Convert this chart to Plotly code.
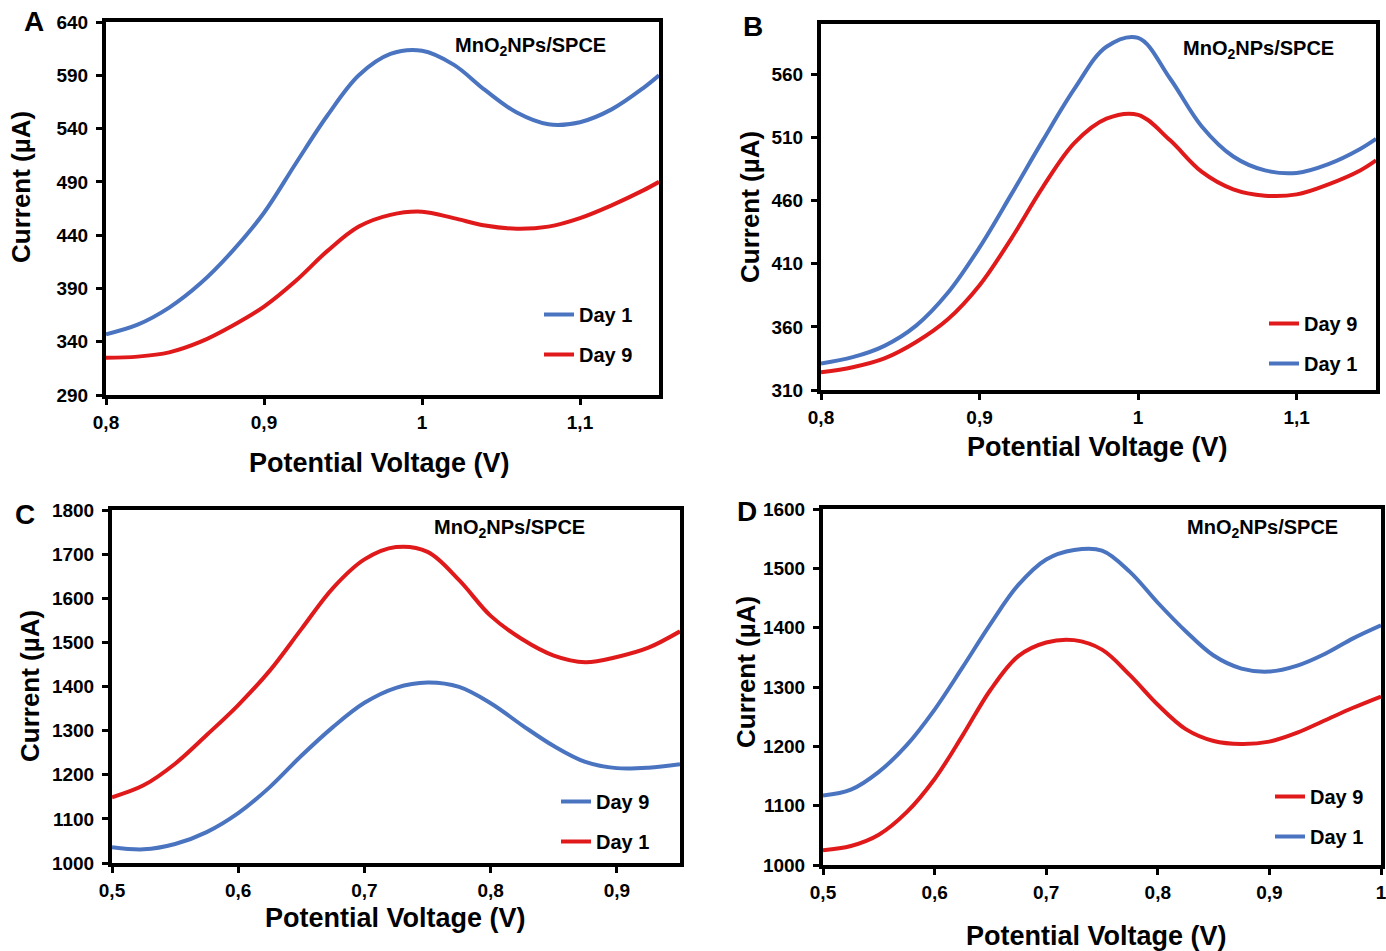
import plotly.graph_objects as go

W, H = 1386, 951

# ---------------- data: potential (V) and current (uA) ----------------
# Panel A
a_v = [0.80, 0.82, 0.84, 0.86, 0.88, 0.90, 0.92, 0.94, 0.96, 0.98, 1.00,
       1.02, 1.04, 1.06, 1.08, 1.10, 1.12, 1.14, 1.15]
a_i_day1 = [347, 356, 372, 395, 425, 461, 507, 552, 590, 610, 613,
            600, 576, 555, 544, 546, 558, 578, 590]
a_i_day9 = [325, 326, 330, 340, 355, 373, 397, 425, 448, 459, 462,
            456, 449, 446, 448, 456, 468, 482, 490]

# Panel B
b_v = [0.80, 0.82, 0.84, 0.86, 0.88, 0.90, 0.92, 0.94, 0.96, 0.98, 1.00,
       1.02, 1.04, 1.06, 1.08, 1.10, 1.12, 1.14, 1.15]
b_i_day1 = [331, 336, 345, 361, 387, 423, 465, 508, 549, 582, 589,
            557, 519, 495, 484, 482, 489, 501, 509]
b_i_day9 = [324, 328, 335, 348, 366, 393, 430, 471, 506, 525, 528,
            508, 483, 469, 464, 465, 473, 484, 492]

# Panel C
c_v = [0.500, 0.525, 0.550, 0.575, 0.600, 0.625, 0.650, 0.675, 0.700, 0.725,
       0.750, 0.775, 0.800, 0.825, 0.850, 0.875, 0.900, 0.925, 0.950]
c_i_day1 = [1149, 1176, 1225, 1290, 1358, 1436, 1530, 1623, 1688, 1716,
            1705, 1641, 1560, 1507, 1470, 1455, 1467, 1488, 1525]
c_i_day9 = [1036, 1031, 1043, 1070, 1113, 1172, 1243, 1308, 1363, 1397,
            1409, 1399, 1362, 1312, 1265, 1229, 1215, 1216, 1224]

# Panel D
d_v = [0.500, 0.525, 0.550, 0.575, 0.600, 0.625, 0.650, 0.675, 0.700, 0.725,
       0.750, 0.775, 0.800, 0.825, 0.850, 0.875, 0.900, 0.925, 0.950, 0.975, 1.000]
d_i_day1 = [1117, 1127, 1157, 1202, 1262, 1333, 1406, 1472, 1515, 1531,
            1530, 1494, 1442, 1394, 1353, 1331, 1326, 1336, 1356, 1382, 1404]
d_i_day9 = [1025, 1032, 1051, 1089, 1145, 1218, 1295, 1352, 1375, 1379,
            1363, 1320, 1270, 1229, 1209, 1204, 1208, 1223, 1244, 1265, 1284]

# axis ticks
a_xticks = [0.8, 0.9, 1.0, 1.1]
a_yticks = [290, 340, 390, 440, 490, 540, 590, 640]
b_xticks = [0.8, 0.9, 1.0, 1.1]
b_yticks = [310, 360, 410, 460, 510, 560]
c_xticks = [0.5, 0.6, 0.7, 0.8, 0.9]
c_yticks = [1000, 1100, 1200, 1300, 1400, 1500, 1600, 1700, 1800]
d_xticks = [0.5, 0.6, 0.7, 0.8, 0.9, 1.0]
d_yticks = [1000, 1100, 1200, 1300, 1400, 1500, 1600]

BLUE = "#4A74C0"
RED = "#E0191B"
FONT = "Liberation Sans, Arial, sans-serif"


def px_x(x):
    return x / W


def px_y(y):
    return 1 - y / H


def tick_text(vals):
    return [("%g" % v).replace(".", ",") for v in vals]


fig = go.Figure()

# panel definitions: axis suffix, legend id, pixel box, ranges, ticks, traces in legend order
panels = [
    ("", "legend", (106, 22, 659, 395), (0.8, 1.15), (290, 640), a_xticks, a_yticks,
     [("Day 1", a_v, a_i_day1, BLUE), ("Day 9", a_v, a_i_day9, RED)]),
    ("2", "legend2", (821, 24, 1376, 390), (0.8, 1.15), (310, 600), b_xticks, b_yticks,
     [("Day 9", b_v, b_i_day9, RED), ("Day 1", b_v, b_i_day1, BLUE)]),
    ("3", "legend3", (112, 510, 680, 863), (0.5, 0.95), (1000, 1800), c_xticks, c_yticks,
     [("Day 9", c_v, c_i_day9, BLUE), ("Day 1", c_v, c_i_day1, RED)]),
    ("4", "legend4", (823, 509, 1381, 865), (0.5, 1.0), (1000, 1600), d_xticks, d_yticks,
     [("Day 9", d_v, d_i_day9, RED), ("Day 1", d_v, d_i_day1, BLUE)]),
]

legend_pos = {
    "legend": (539, 295),
    "legend2": (1264, 304),
    "legend3": (556, 782),
    "legend4": (1270, 777),
}

layout = dict(
    width=W, height=H,
    margin=dict(l=0, r=0, t=0, b=0),
    paper_bgcolor="white", plot_bgcolor="white",
    font=dict(family=FONT, color="black"),
    separators=",.",
    showlegend=True,
)

for suffix, leg, (x0, y0, x1, y1), xr, yr, xt, yt, traces in panels:
    for name, xs, ys, col in traces:
        fig.add_trace(go.Scatter(
            x=xs, y=ys, name=name, mode="lines",
            line=dict(color=col, width=4, shape="spline", smoothing=1.0),
            xaxis="x" + suffix, yaxis="y" + suffix,
            legend=leg, legendgroup=leg + name,
        ))
    axis_common = dict(
        showline=True, linecolor="black", linewidth=4, mirror=True,
        showgrid=False, zeroline=False, automargin=False,
        ticks="outside", ticklen=6, tickwidth=3, tickcolor="black",
        tickfont=dict(family=FONT, size=19, color="black", weight="bold"),
        ticklabeloverflow="allow",
    )
    layout["xaxis" + suffix] = dict(
        axis_common, domain=[px_x(x0), px_x(x1)], range=list(xr),
        tickvals=xt, ticktext=tick_text(xt), ticklabelstandoff=1,
        anchor="y" + suffix,
    )
    layout["yaxis" + suffix] = dict(
        axis_common, domain=[px_y(y1), px_y(y0)], range=list(yr),
        tickvals=yt, ticktext=tick_text(yt), ticklabelstandoff=4,
        anchor="x" + suffix,
    )
    lx, ly = legend_pos[leg]
    layout[leg] = dict(
        x=px_x(lx), y=px_y(ly), xref="paper", yref="paper",
        xanchor="left", yanchor="top",
        bgcolor="rgba(0,0,0,0)", borderwidth=0,
        font=dict(family=FONT, size=20, color="black", weight="bold"),
        tracegroupgap=11, traceorder="grouped",
    )

fig.update_layout(**layout)

# panel letters, inset labels and axis titles
letters = [("A", 34, 22), ("B", 753, 26), ("C", 25, 514), ("D", 747, 511)]
insets = [(530, 46), (1258, 49), (510, 528), (1262, 528)]
xtitles = [(379, 463), (1097, 447), (395, 918), (1096, 936)]
ytitles = [(21, 187), (750, 207), (30, 686), (746, 672)]

for txt, x, y in letters:
    fig.add_annotation(text="<b>%s</b>" % txt, x=px_x(x), y=px_y(y), xref="paper", yref="paper",
                       showarrow=False, font=dict(family=FONT, size=28, color="black"),
                       xanchor="center", yanchor="middle")
for x, y in insets:
    fig.add_annotation(text="<b>MnO<sub>2</sub>NPs/SPCE</b>", x=px_x(x), y=px_y(y),
                       xref="paper", yref="paper", showarrow=False,
                       font=dict(family=FONT, size=20, color="black"),
                       xanchor="center", yanchor="middle")
for x, y in xtitles:
    fig.add_annotation(text="<b>Potential Voltage (V)</b>", x=px_x(x), y=px_y(y),
                       xref="paper", yref="paper", showarrow=False,
                       font=dict(family=FONT, size=27, color="black"),
                       xanchor="center", yanchor="middle")
for x, y in ytitles:
    fig.add_annotation(text="<b>Current (µA)</b>", x=px_x(x), y=px_y(y),
                       xref="paper", yref="paper", showarrow=False, textangle=-90,
                       font=dict(family=FONT, size=26, color="black"),
                       xanchor="center", yanchor="middle")

fig.write_html("out.html")
